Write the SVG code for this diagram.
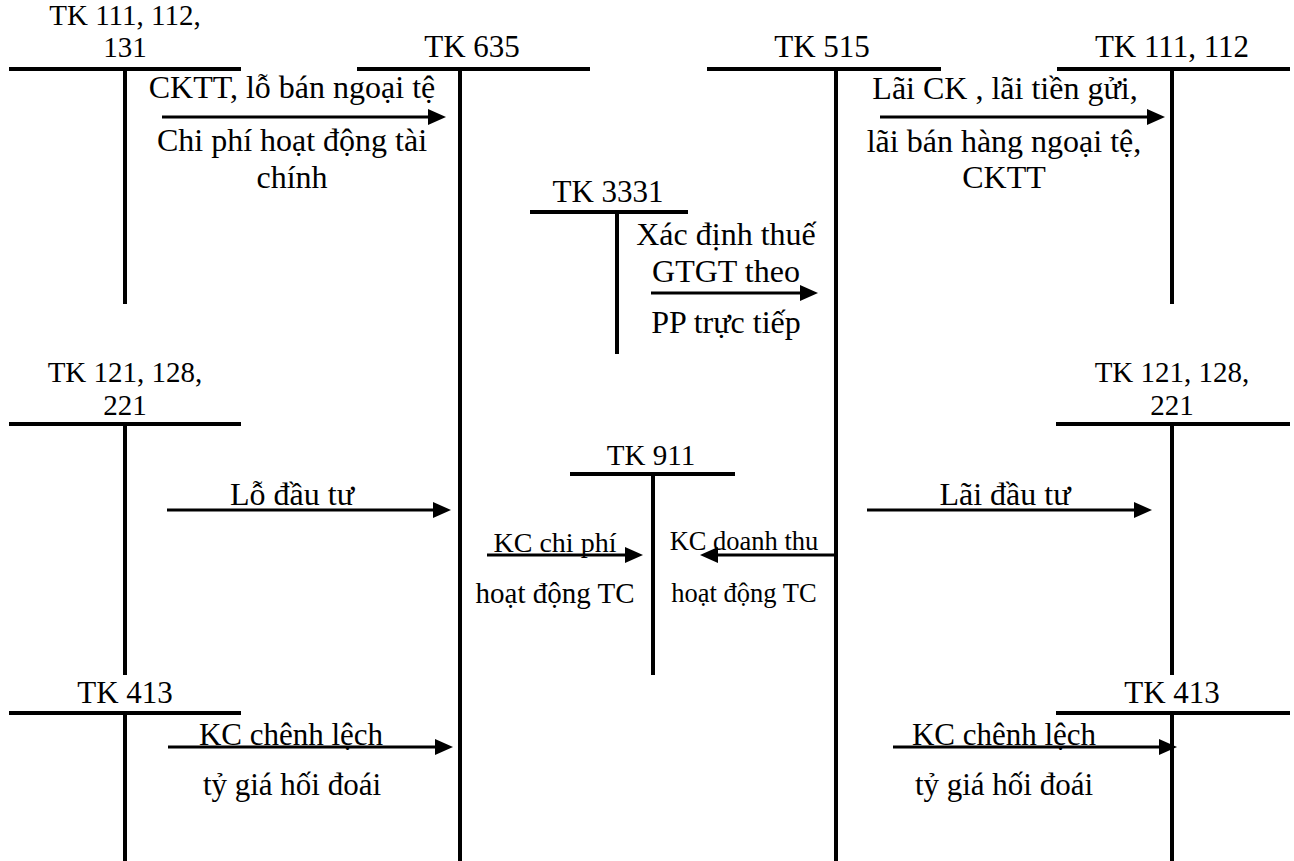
<svg xmlns="http://www.w3.org/2000/svg" width="1294" height="861" viewBox="0 0 1294 861">
<style>
text{font-family:"Times New Roman","Liberation Serif",serif;fill:#000;text-anchor:middle}
.acc line{stroke:#000;stroke-width:4}
.conn line{stroke:#000;stroke-width:3}
.ah{fill:#000}
</style>
<rect width="1294" height="861" fill="#fff"/>
<g id="tk111-left" class="acc">
<text font-size="29" x="125" y="25">TK 111, 112,</text>
<text font-size="29" x="125" y="57">131</text>
<line x1="9" y1="69" x2="241" y2="69"/>
<line x1="125" y1="69" x2="125" y2="304"/>
</g>
<g id="tk635" class="acc">
<text font-size="31" x="472" y="57">TK 635</text>
<line x1="357" y1="69" x2="590" y2="69"/>
<line x1="460" y1="69" x2="460" y2="861"/>
</g>
<g id="tk515" class="acc">
<text font-size="31" x="822" y="57">TK 515</text>
<line x1="707" y1="69" x2="941" y2="69"/>
<line x1="836" y1="69" x2="836" y2="861"/>
</g>
<g id="tk111-right" class="acc">
<text font-size="31" x="1172" y="57">TK 111, 112</text>
<line x1="1057" y1="69" x2="1290" y2="69"/>
<line x1="1172" y1="69" x2="1172" y2="304"/>
</g>
<g id="tk3331" class="acc">
<text font-size="31" x="608" y="202">TK 3331</text>
<line x1="530" y1="212" x2="688" y2="212"/>
<line x1="617" y1="212" x2="617" y2="354"/>
</g>
<g id="tk121-left" class="acc">
<text font-size="29" x="125" y="382">TK 121, 128,</text>
<text font-size="29" x="125" y="415">221</text>
<line x1="9" y1="424" x2="241" y2="424"/>
<line x1="125" y1="424" x2="125" y2="675"/>
</g>
<g id="tk121-right" class="acc">
<text font-size="29" x="1172" y="382">TK 121, 128,</text>
<text font-size="29" x="1172" y="415">221</text>
<line x1="1056" y1="424" x2="1290" y2="424"/>
<line x1="1172" y1="424" x2="1172" y2="675"/>
</g>
<g id="tk911" class="acc">
<text font-size="29" x="651" y="465">TK 911</text>
<line x1="570" y1="474" x2="735" y2="474"/>
<line x1="653" y1="474" x2="653" y2="675"/>
</g>
<g id="tk413-left" class="acc">
<text font-size="31" x="125" y="703">TK 413</text>
<line x1="9" y1="713" x2="241" y2="713"/>
<line x1="125" y1="713" x2="125" y2="861"/>
</g>
<g id="tk413-right" class="acc">
<text font-size="31" x="1172" y="703">TK 413</text>
<line x1="1056" y1="713" x2="1290" y2="713"/>
<line x1="1172" y1="713" x2="1172" y2="861"/>
</g>

<g id="connectors" class="conn">
<line x1="162" y1="117" x2="436" y2="117"/>
<polygon class="ah" points="428,109 446,117 428,125"/>
<line x1="880" y1="117" x2="1155" y2="117"/>
<polygon class="ah" points="1147,109 1165,117 1147,125"/>
<line x1="651" y1="293" x2="808" y2="293"/>
<polygon class="ah" points="800,285 818,293 800,301"/>
<line x1="167" y1="510" x2="441" y2="510"/>
<polygon class="ah" points="433,502 451,510 433,518"/>
<line x1="867" y1="510" x2="1142" y2="510"/>
<polygon class="ah" points="1134,502 1152,510 1134,518"/>
<line x1="487" y1="555" x2="633" y2="555"/>
<polygon class="ah" points="625,547 643,555 625,563"/>
<line x1="836" y1="555" x2="710" y2="555"/>
<polygon class="ah" points="718,547 700,555 718,563"/>
<line x1="168" y1="747" x2="443" y2="747"/>
<polygon class="ah" points="435,739 453,747 435,755"/>
<line x1="893" y1="747" x2="1167" y2="747"/>
<polygon class="ah" points="1159,739 1177,747 1159,755"/>
</g>

<g id="labels">
<text font-size="32" x="292" y="98">CKTT, lỗ bán ngoại tệ</text>
<text font-size="32" x="292" y="151">Chi phí hoạt động tài</text>
<text font-size="32" x="292" y="188">chính</text>
<text font-size="32" x="1005" y="99">Lãi CK , lãi tiền gửi,</text>
<text font-size="32" x="1004" y="152">lãi bán hàng ngoại tệ,</text>
<text font-size="32" x="1004" y="188">CKTT</text>
<text font-size="32" x="726" y="245">Xác định thuế</text>
<text font-size="32" x="726" y="282">GTGT theo</text>
<text font-size="32" x="726" y="333">PP trực tiếp</text>
<text font-size="32" x="292" y="505">Lỗ đầu tư</text>
<text font-size="32" x="1005" y="505">Lãi đầu tư</text>
<text font-size="28" x="555" y="552">KC chi phí</text>
<text font-size="29" x="555" y="603">hoạt động TC</text>
<text font-size="26.5" x="744" y="550">KC doanh thu</text>
<text font-size="26.5" x="744" y="602">hoạt động TC</text>
<text font-size="31" x="291" y="745">KC chênh lệch</text>
<text font-size="31" x="292" y="795">tỷ giá hối đoái</text>
<text font-size="31" x="1004" y="745">KC chênh lệch</text>
<text font-size="31" x="1004" y="795">tỷ giá hối đoái</text>
</g>
</svg>
